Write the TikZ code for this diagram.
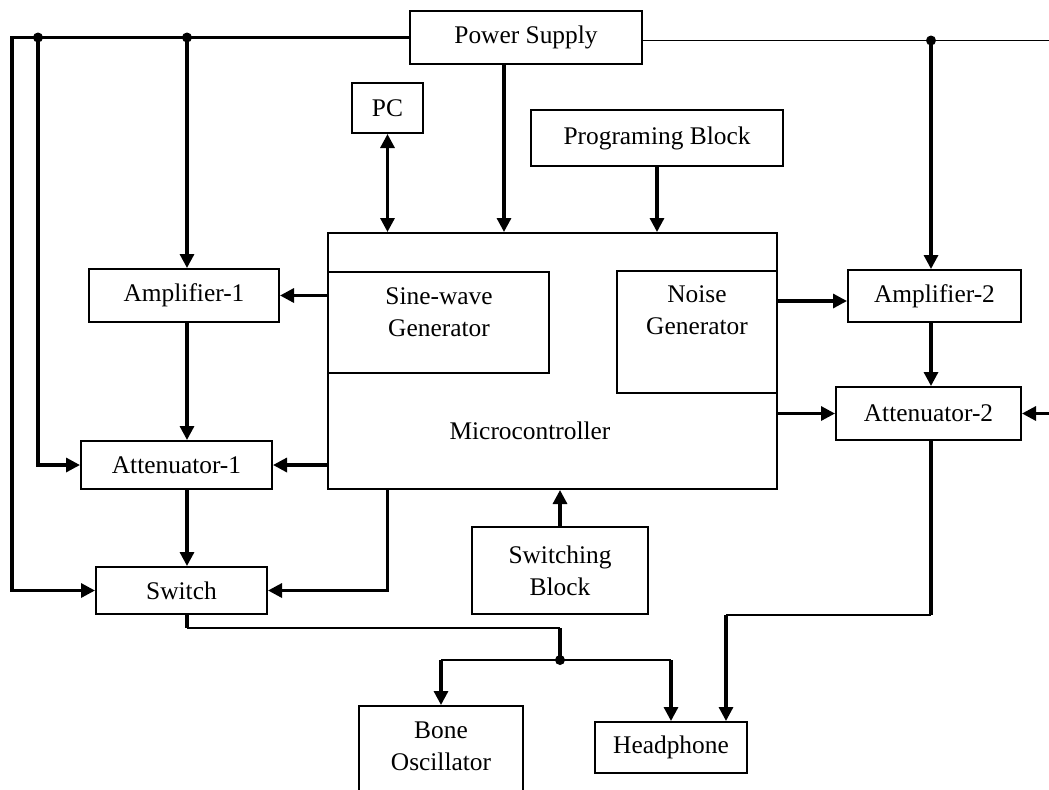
\documentclass[tikz,border=0pt]{standalone}
\usepackage{fontspec}
\setmainfont{Liberation Serif}
\usepackage{tikz}
\usetikzlibrary{arrows.meta}
\newcommand\blkfont{\fontsize{12.7}{16}\selectfont}
\tikzset{
  blk/.style={draw, line width=1pt, inner sep=0pt, align=center, font=\blkfont},
  txt/.style={inner sep=0pt, align=center, font=\blkfont},
  tip/.style={-{Triangle[length=7pt,width=7pt]}},
  conn/.style={line width=1.6pt, tip},
  rail/.style={line width=1.6pt},
  thinl/.style={line width=0.8pt},
  dot/.style={fill=black}
}
\begin{document}
\begin{tikzpicture}[x=0.5pt,y=-0.5pt]
    \useasboundingbox (0,0) rectangle (1049,789);
    \clip (0,0) rectangle (1049,789);
    % blocks
    \node[blk, minimum width=116pt, minimum height=26.5pt] (ps) at (526,37.5) {Power Supply};
    \node[blk, minimum width=35.5pt, minimum height=25pt] (pc) at (387.5,108) {PC};
    \node[blk, minimum width=126pt, minimum height=28pt] (prog) at (657,138) {Programing Block};
    \node[blk, minimum width=224.5pt, minimum height=128pt] (mc) at (552.5,361) {};
    \node[txt] (mctxt) at (530,431) {Microcontroller};
    \node[blk, minimum width=110.5pt, minimum height=50.5pt] (sine) at (438.5,322.5) {};
    \node[txt] (sinetxt) at (439,312) {Sine-wave\\Generator};
    \node[blk, minimum width=80pt, minimum height=61pt] (noise) at (697,332) {};
    \node[txt] (noisetxt) at (697,310.5) {Noise\\Generator};
    \node[blk, minimum width=95pt, minimum height=26.5pt] (amp1) at (184,295.5) {Amplifier-1};
    \node[blk, minimum width=95.5pt, minimum height=24pt] (att1) at (176.5,465) {Attenuator-1};
    \node[blk, minimum width=85.5pt, minimum height=23.5pt] (sw) at (181.5,590.5) {Switch};
    \node[blk, minimum width=88pt, minimum height=43.5pt] (swb) at (560,570.5) {Switching\\Block};
    \node[blk, minimum width=82pt, minimum height=50pt] (bone) at (441,756) {};
    \node[txt] (bonetxt) at (441,746) {Bone\\Oscillator};
    \node[blk, minimum width=76pt, minimum height=25.5pt] (hp) at (671,747.5) {Headphone};
    \node[blk, minimum width=86.5pt, minimum height=26pt] (amp2) at (934.5,296) {Amplifier-2};
    \node[blk, minimum width=92.5pt, minimum height=26.5pt] (att2) at (928.5,413.5) {Attenuator-2};
    % junctions and rails
    \coordinate (lrail) at (12,0);
    \coordinate (redge) at (1049,0);
    \coordinate (ja) at (38,37.5);
    \coordinate (jb) at (187,37.5);
    \coordinate (pr) at ([yshift=-1.5pt]ps.east);
    \coordinate (jc) at (931,0 |- pr);
    \coordinate (n2) at ([yshift=-2.5pt]amp2.west);
    \coordinate (pw) at ([xshift=-11pt]ps.south);
    \coordinate (hpr) at ([xshift=27.5pt]hp.north);
    \coordinate (swo) at (187,628);
    \coordinate (js) at (560,660);
    % power supply
    \draw[conn] (ps.west) -| (lrail |- sw.west) -- (sw.west);
    \draw[conn] (ja) |- (att1.west);
    \draw[conn] (jb) -- (jb |- amp1.north);
    \draw[thinl] (pr) -- (redge |- pr);
    \draw[conn] (jc) -- (jc |- amp2.north);
    \draw[conn] (pw) -- (pw |- mc.north);
    \fill[dot] (ja) circle (2.5pt);
    \fill[dot] (jb) circle (2.5pt);
    \fill[dot] (jc) circle (2.5pt);
    % microcontroller links
    \draw[conn, {Triangle[length=7pt,width=7pt]}-{Triangle[length=7pt,width=7pt]}] (pc.south) -- (pc.south |- mc.north);
    \draw[conn] (prog.south) -- (prog.south |- mc.north);
    \draw[conn] (mc.west |- amp1.east) -- (amp1.east);
    \draw[conn] (jb |- amp1.south) -- (jb |- att1.north);
    \draw[conn] (mc.west |- att1.east) -- (att1.east);
    \draw[conn] (jb |- att1.south) -- (jb |- sw.north);
    \draw[conn] (pc.south |- mc.south) |- (sw.east);
    \draw[conn] (swb.north) -- (swb.north |- mc.south);
    \draw[conn] (noise.east |- n2) -- (n2);
    \draw[conn] (jc |- amp2.south) -- (jc |- att2.north);
    \draw[conn] (mc.east |- att2.west) -- (att2.west);
    \draw[conn] (redge |- att2.east) -- (att2.east);
    % outputs
    \draw[rail] (jc |- att2.south) -- (jc |- sw.south);
    \draw[line width=1.1pt] (jc |- sw.south) -- (hpr |- sw.south);
    \draw[conn] (hpr |- sw.south) -- (hpr);
    \draw[rail] (jb |- sw.south) -- (swo);
    \draw[thinl] (swo) -- (swo -| js);
    \draw[rail] (swo -| js) -- (js);
    \draw[thinl] (js) -- (js -| bone.north);
    \draw[conn] (js -| bone.north) -- (bone.north);
    \draw[thinl] (js) -- (js -| hp.north);
    \draw[conn] (js -| hp.north) -- (hp.north);
    \fill[dot] (js) circle (2.5pt);
\end{tikzpicture}
\end{document}
